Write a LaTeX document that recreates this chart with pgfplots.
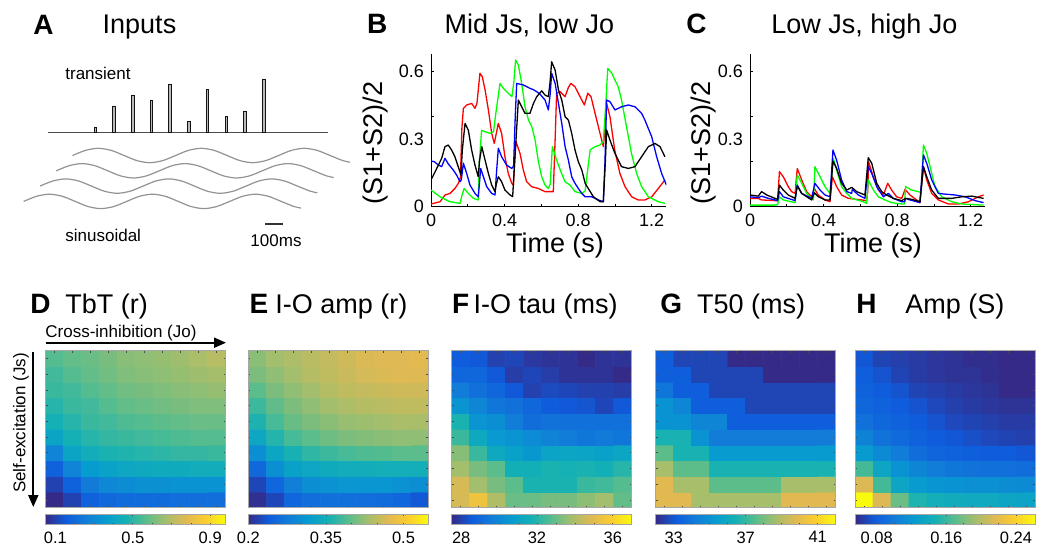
\documentclass[border=0pt]{standalone}
\usepackage{fontspec}
\setmainfont{Liberation Sans}
\usepackage{pgfplots}
\pgfplotsset{compat=1.18}
\usetikzlibrary{arrows.meta}

\newcommand{\ltr}{\fontsize{14}{16}\selectfont\bfseries}
\newcommand{\ttl}{\fontsize{13.5}{16}\selectfont}
\newcommand{\tkl}{\fontsize{9}{10}\selectfont}
\newcommand{\sml}{\fontsize{8.5}{10}\selectfont}
\newcommand{\cbl}{\fontsize{8.25}{10}\selectfont}

\pgfplotsset{
  colormap={parula}{rgb255=(53,42,135) rgb255=(15,92,221) rgb255=(18,125,216)
    rgb255=(7,156,207) rgb255=(21,177,180) rgb255=(89,189,140) rgb255=(165,190,107)
    rgb255=(225,185,82) rgb255=(252,206,46) rgb255=(249,251,14)},
  trace axis/.style={
    anchor=south west, scale only axis, width=117.7pt, height=76.5pt,
    xmin=0, xmax=1.28, ymin=0, ymax=0.68,
    axis x line*=bottom, axis y line*=left,
    axis line style={-, line width=0.5pt},
    tick align=inside, major tick length=1.5pt, tick style={black, line width=0.4pt},
    xtick={0,0.2,0.4,0.6,0.8,1,1.2}, xticklabels={0,,0.4,,0.8,,1.2},
    ytick={0,0.2,0.4,0.6}, yticklabels={0,,,0.6},
    extra y ticks={0.3}, extra y tick labels={0.3},
    extra y tick style={major tick length=0pt},
    tick label style={font=\tkl},
    /pgf/number format/assume math mode=true,
    every axis plot/.append style={line width=0.65pt, line join=round},
  },
  heat/.style={
    anchor=north west, scale only axis, width=90pt, height=78.5pt,
    xmin=0.5, xmax=10.5, ymin=0.5, ymax=10.5, enlargelimits=false,
    axis on top, colormap name=parula,
    xtick={1,...,10}, ytick={1,...,10}, xticklabels={}, yticklabels={},
    tick align=inside, major tick length=1pt,
    tick style={gray!60!black, line width=0.3pt},
    axis line style={gray!70, line width=0.4pt},
    colorbar horizontal,
    colorbar style={
      at={(parent axis.south west)}, anchor=north west, yshift=5.35pt,
      scale only axis, width=90pt, height=5.25pt,
      tick align=inside, major tick length=1pt, minor tick length=0.7pt,
      tick style={gray!60!black, line width=0.3pt},
      axis line style={gray!70, line width=0.4pt},
      xticklabel style={font=\cbl},
      minor x tick num=3,
      /pgf/number format/assume math mode=true,
    },
  },
}

\begin{document}
\begin{tikzpicture}
\useasboundingbox (0,0) rectangle (521pt,-275pt);
\fill[white] (0,0) rectangle (521pt,-275pt);

% ---------- A: inputs ----------
\begin{axis}[at={(24pt,-66.15pt)}, anchor=south west, scale only axis,
  width=140pt, height=30pt, xmin=48, xmax=328, ymin=0, ymax=60,
  hide axis, clip=false]
\addplot[gray!60!black, line width=0.5pt] coordinates {(48.3,0) (328.3,0)};
\addplot[ybar, bar width=2.6, fill=gray!55, draw=gray!15!black, line width=0.45pt]
  coordinates {(95.3,5.3) (114,26.3) (132.7,37.3) (151.3,32.3) (170,48)
               (189,10.7) (207.3,42.7) (226.3,16) (245,21.3) (263.7,53.3)};
\end{axis}

\begin{axis}[at={(0pt,-70pt)}, anchor=north west, scale only axis,
  width=180pt, height=37.5pt, xmin=0, xmax=360, ymin=140, ymax=215,
  y dir=reverse, hide axis, clip=false]
\addplot[smooth, gray!85, line width=0.6pt] coordinates {
  (72.6,155.5) (85.4,150.4) (98.3,148.3) (111.2,150.4) (124.1,155.5) (136.9,160.6)
  (149.8,162.7) (162.7,160.6) (175.6,155.5) (188.4,150.4) (201.3,148.3) (214.2,150.4)
  (227.1,155.5) (239.9,160.6) (252.8,162.7) (265.7,160.6) (278.6,155.5) (291.4,150.4)
  (304.3,148.3) (317.2,150.4) (330.1,155.5) (342.9,160.6) (350,162.2)};
\addplot[smooth, gray!85, line width=0.6pt] coordinates {
  (56.3,170.8) (69.1,165.7) (82,163.6) (94.9,165.7) (107.8,170.8) (120.6,175.9)
  (133.5,178) (146.4,175.9) (159.3,170.8) (172.1,165.7) (185,163.6) (197.9,165.7)
  (210.8,170.8) (223.6,175.9) (236.5,178) (249.4,175.9) (262.3,170.8) (275.1,165.7)
  (288,163.6) (300.9,165.7) (313.8,170.8) (326.6,175.9) (333.7,177.5)};
\addplot[smooth, gray!85, line width=0.6pt] coordinates {
  (40,186.1) (52.8,181) (65.7,178.9) (78.6,181) (91.5,186.1) (104.3,191.2)
  (117.2,193.3) (130.1,191.2) (143,186.1) (155.8,181) (168.7,178.9) (181.6,181)
  (194.5,186.1) (207.3,191.2) (220.2,193.3) (233.1,191.2) (246,186.1) (258.8,181)
  (271.7,178.9) (284.6,181) (297.5,186.1) (310.3,191.2) (317.4,192.8)};
\addplot[smooth, gray!85, line width=0.6pt] coordinates {
  (23.7,201.4) (36.5,196.3) (49.4,194.2) (62.3,196.3) (75.2,201.4) (88,206.5)
  (100.9,208.6) (113.8,206.5) (126.7,201.4) (139.5,196.3) (152.4,194.2) (165.3,196.3)
  (178.2,201.4) (191,206.5) (203.9,208.6) (216.8,206.5) (229.7,201.4) (242.5,196.3)
  (255.4,194.2) (268.3,196.3) (281.2,201.4) (294,206.5) (301.1,208.1)};
\end{axis}

% ---------- B ----------
\begin{axis}[trace axis, at={(215.5pt,-103.35pt)}]
\addplot[red] coordinates {
 (0,0.012) (0.049,0.022) (0.076,0.052) (0.103,0.059) (0.13,0.081) (0.149,0.104)
 (0.16,0.13) (0.168,0.35) (0.176,0.437) (0.194,0.452) (0.221,0.459) (0.239,0.437)
 (0.25,0.46) (0.266,0.593) (0.279,0.578) (0.294,0.519) (0.312,0.43) (0.33,0.326)
 (0.344,0.281) (0.356,0.33) (0.366,0.37) (0.384,0.326) (0.402,0.222) (0.42,0.148)
 (0.439,0.104) (0.448,0.096) (0.458,0.25) (0.462,0.289) (0.484,0.237) (0.502,0.163)
 (0.52,0.111) (0.547,0.089) (0.584,0.081) (0.62,0.067) (0.665,0.067) (0.675,0.3)
 (0.683,0.504) (0.702,0.511) (0.729,0.489) (0.747,0.53) (0.761,0.548) (0.783,0.533)
 (0.801,0.504) (0.82,0.474) (0.834,0.452) (0.852,0.504) (0.87,0.489) (0.892,0.415)
 (0.919,0.326) (0.937,0.267) (0.946,0.35) (0.955,0.459) (0.973,0.4) (0.999,0.252)
 (1.027,0.148) (1.055,0.089) (1.091,0.044) (1.127,0.03) (1.163,0.03) (1.2,0.044)
 (1.236,0.081) (1.272,0.119)};
\addplot[green] coordinates {
 (0,0.074) (0.049,0.044) (0.103,0.022) (0.158,0.015) (0.168,0.05) (0.18,0.081)
 (0.203,0.059) (0.23,0.037) (0.257,0.03) (0.263,0.2) (0.275,0.34) (0.295,0.333)
 (0.321,0.326) (0.34,0.333) (0.35,0.4) (0.375,0.548) (0.393,0.526) (0.42,0.504)
 (0.44,0.489) (0.45,0.55) (0.46,0.652) (0.475,0.63) (0.493,0.548) (0.511,0.444)
 (0.53,0.385) (0.548,0.356) (0.566,0.296) (0.584,0.2) (0.602,0.133) (0.62,0.096)
 (0.638,0.081) (0.648,0.1) (0.66,0.267) (0.683,0.207) (0.71,0.148) (0.729,0.111)
 (0.756,0.096) (0.783,0.067) (0.82,0.059) (0.838,0.07) (0.865,0.252) (0.892,0.267)
 (0.919,0.274) (0.937,0.289) (0.95,0.45) (0.961,0.615) (0.983,0.593) (1.0,0.563)
 (1.018,0.533) (1.036,0.474) (1.063,0.356) (1.09,0.237) (1.118,0.148) (1.145,0.089)
 (1.182,0.044) (1.236,0.022) (1.272,0.015)};
\addplot[blue] coordinates {
 (0,0.203) (0.018,0.2) (0.04,0.185) (0.058,0.178) (0.076,0.215) (0.094,0.19)
 (0.121,0.163) (0.139,0.141) (0.158,0.111) (0.165,0.12) (0.176,0.193) (0.194,0.148)
 (0.212,0.096) (0.239,0.059) (0.257,0.044) (0.263,0.1) (0.27,0.17) (0.285,0.133)
 (0.303,0.089) (0.33,0.059) (0.348,0.052) (0.356,0.15) (0.366,0.26) (0.384,0.222)
 (0.411,0.185) (0.439,0.17) (0.449,0.18) (0.458,0.4) (0.466,0.548) (0.502,0.541)
 (0.538,0.526) (0.557,0.52) (0.575,0.511) (0.593,0.5) (0.62,0.474) (0.638,0.43)
 (0.648,0.5) (0.656,0.593) (0.675,0.548) (0.693,0.459) (0.711,0.37) (0.729,0.267)
 (0.747,0.207) (0.765,0.133) (0.783,0.104) (0.801,0.081) (0.82,0.059) (0.838,0.044)
 (0.874,0.044) (0.91,0.03) (0.937,0.022) (0.946,0.2) (0.955,0.474) (0.973,0.467)
 (1.0,0.43) (1.036,0.444) (1.073,0.452) (1.109,0.444) (1.145,0.415) (1.163,0.385)
 (1.2,0.311) (1.227,0.222) (1.254,0.148) (1.28,0.096)};
\addplot[black] coordinates {
 (0,0.119) (0.018,0.148) (0.036,0.178) (0.058,0.215) (0.076,0.267) (0.094,0.274)
 (0.112,0.252) (0.13,0.222) (0.148,0.178) (0.163,0.141) (0.17,0.25) (0.185,0.37)
 (0.203,0.34) (0.221,0.252) (0.239,0.185) (0.257,0.133) (0.263,0.2) (0.276,0.267)
 (0.294,0.207) (0.312,0.148) (0.33,0.096) (0.348,0.067) (0.355,0.1) (0.366,0.133)
 (0.384,0.111) (0.402,0.074) (0.43,0.052) (0.444,0.045) (0.455,0.2) (0.475,0.474)
 (0.493,0.444) (0.511,0.415) (0.538,0.415) (0.557,0.459) (0.575,0.489) (0.602,0.515)
 (0.62,0.496) (0.638,0.489) (0.647,0.55) (0.656,0.644) (0.675,0.607) (0.693,0.519)
 (0.711,0.474) (0.729,0.4) (0.747,0.385) (0.765,0.326) (0.783,0.252) (0.801,0.2)
 (0.82,0.163) (0.838,0.104) (0.856,0.08) (0.883,0.044) (0.92,0.022) (0.937,0.022)
 (0.948,0.2) (0.955,0.341) (0.973,0.296) (1.0,0.237) (1.036,0.178) (1.073,0.17)
 (1.109,0.178) (1.145,0.222) (1.182,0.267) (1.218,0.281) (1.245,0.267) (1.272,0.222)};
\end{axis}

% ---------- C ----------
\begin{axis}[trace axis, at={(375pt,-103.35pt)}]
\addplot[red] coordinates {
 (0,0.037) (0.045,0.037) (0.063,0.03) (0.136,0.027) (0.15,0.027) (0.16,0.156)
 (0.181,0.133) (0.208,0.089) (0.226,0.067) (0.245,0.059) (0.257,0.17) (0.281,0.119)
 (0.308,0.067) (0.335,0.044) (0.35,0.081) (0.371,0.052) (0.408,0.03) (0.435,0.022)
 (0.448,0.133) (0.471,0.089) (0.498,0.052) (0.535,0.037) (0.607,0.03) (0.634,0.027)
 (0.64,0.067) (0.645,0.2) (0.67,0.133) (0.698,0.074) (0.725,0.052) (0.749,0.104)
 (0.77,0.074) (0.797,0.044) (0.825,0.037) (0.843,0.077) (0.87,0.052) (0.906,0.03)
 (0.924,0.018) (0.943,0.178) (0.961,0.119) (0.988,0.059) (1.024,0.03) (1.079,0.012)
 (1.133,0.012) (1.188,0.022) (1.242,0.044) (1.27,0.052)};
\addplot[green] coordinates {
 (0,0.007) (0.136,0.007) (0.15,0.009) (0.16,0.044) (0.181,0.03) (0.245,0.018)
 (0.257,0.141) (0.281,0.104) (0.308,0.059) (0.335,0.037) (0.345,0.03) (0.353,0.178)
 (0.381,0.133) (0.408,0.089) (0.435,0.059) (0.453,0.215) (0.471,0.163) (0.498,0.089)
 (0.526,0.059) (0.553,0.037) (0.616,0.022) (0.634,0.015) (0.643,0.119) (0.671,0.074)
 (0.698,0.044) (0.734,0.03) (0.77,0.018) (0.825,0.012) (0.84,0.012) (0.846,0.089)
 (0.879,0.074) (0.915,0.067) (0.93,0.063) (0.943,0.274) (0.961,0.237) (0.979,0.178)
 (1.006,0.089) (1.043,0.044) (1.097,0.022) (1.151,0.012) (1.27,0.007)};
\addplot[blue] coordinates {
 (0,0.044) (0.045,0.04) (0.063,0.047) (0.1,0.037) (0.136,0.03) (0.15,0.027)
 (0.16,0.067) (0.181,0.044) (0.245,0.027) (0.257,0.096) (0.281,0.059) (0.335,0.037)
 (0.353,0.104) (0.381,0.074) (0.408,0.052) (0.435,0.044) (0.451,0.252) (0.471,0.207)
 (0.498,0.119) (0.526,0.067) (0.553,0.059) (0.556,0.077) (0.589,0.052) (0.625,0.037)
 (0.643,0.178) (0.662,0.148) (0.689,0.089) (0.725,0.044) (0.752,0.059) (0.779,0.037)
 (0.825,0.022) (0.84,0.022) (0.846,0.037) (0.87,0.03) (0.924,0.018) (0.943,0.23)
 (0.961,0.193) (0.988,0.119) (1.024,0.059) (1.06,0.056) (1.115,0.052) (1.17,0.044)
 (1.224,0.027) (1.27,0.018)};
\addplot[black] coordinates {
 (0,0.052) (0.045,0.047) (0.063,0.067) (0.091,0.052) (0.136,0.037) (0.15,0.033)
 (0.16,0.096) (0.181,0.074) (0.208,0.052) (0.245,0.037) (0.257,0.092) (0.281,0.059)
 (0.335,0.03) (0.35,0.062) (0.372,0.044) (0.408,0.03) (0.435,0.03) (0.451,0.203)
 (0.471,0.17) (0.498,0.104) (0.526,0.074) (0.553,0.086) (0.58,0.067) (0.625,0.052)
 (0.643,0.218) (0.662,0.193) (0.689,0.104) (0.716,0.067) (0.743,0.052) (0.779,0.037)
 (0.825,0.027) (0.846,0.037) (0.879,0.033) (0.924,0.022) (0.943,0.178) (0.961,0.133)
 (0.988,0.074) (1.024,0.037) (1.097,0.037) (1.151,0.044) (1.206,0.047) (1.27,0.037)};
\end{axis}

% ---------- D: TbT (r) ----------
\begin{axis}[heat, at={(22.85pt,-175.35pt)}, point meta min=0.05, point meta max=0.98,
  colorbar style={xtick={0.1,0.5,0.9}, xticklabels={0.1,0.5,0.9}}]
\addplot[matrix plot*, mesh/cols=10, point meta=explicit] coordinates {
(1,1)[0.05] (2,1)[0.10] (3,1)[0.17] (4,1)[0.19] (5,1)[0.20] (6,1)[0.20] (7,1)[0.20] (8,1)[0.21] (9,1)[0.21] (10,1)[0.21]
(1,2)[0.10] (2,2)[0.17] (3,2)[0.25] (4,2)[0.29] (5,2)[0.31] (6,2)[0.32] (7,2)[0.32] (8,2)[0.33] (9,2)[0.33] (10,2)[0.33]
(1,3)[0.17] (2,3)[0.28] (3,3)[0.36] (4,3)[0.39] (5,3)[0.41] (6,3)[0.42] (7,3)[0.43] (8,3)[0.43] (9,3)[0.44] (10,3)[0.44]
(1,4)[0.28] (2,4)[0.40] (3,4)[0.44] (4,4)[0.47] (5,4)[0.48] (6,4)[0.49] (7,4)[0.50] (8,4)[0.51] (9,4)[0.51] (10,4)[0.52]
(1,5)[0.40] (2,5)[0.46] (3,5)[0.49] (4,5)[0.51] (5,5)[0.52] (6,5)[0.53] (7,5)[0.54] (8,5)[0.55] (9,5)[0.56] (10,5)[0.56]
(1,6)[0.46] (2,6)[0.49] (3,6)[0.52] (4,6)[0.53] (5,6)[0.55] (6,6)[0.56] (7,6)[0.57] (8,6)[0.58] (9,6)[0.59] (10,6)[0.59]
(1,7)[0.49] (2,7)[0.52] (3,7)[0.53] (4,7)[0.56] (5,7)[0.58] (6,7)[0.59] (7,7)[0.60] (8,7)[0.61] (9,7)[0.62] (10,7)[0.62]
(1,8)[0.52] (2,8)[0.53] (3,8)[0.56] (4,8)[0.58] (5,8)[0.60] (6,8)[0.61] (7,8)[0.62] (8,8)[0.63] (9,8)[0.64] (10,8)[0.65]
(1,9)[0.53] (2,9)[0.56] (3,9)[0.58] (4,9)[0.60] (5,9)[0.62] (6,9)[0.63] (7,9)[0.64] (8,9)[0.65] (9,9)[0.66] (10,9)[0.67]
(1,10)[0.56] (2,10)[0.58] (3,10)[0.59] (4,10)[0.61] (5,10)[0.63] (6,10)[0.64] (7,10)[0.65] (8,10)[0.66] (9,10)[0.68] (10,10)[0.70]
};
\end{axis}

% ---------- E: I-O amp (r) ----------
\begin{axis}[heat, at={(124.15pt,-175.35pt)}, point meta min=0.2, point meta max=0.548,
  colorbar style={xtick={0.2,0.35,0.5}, xticklabels={0.2,0.35,0.5}, minor x tick num=2}]
\addplot[matrix plot*, mesh/cols=10, point meta=explicit] coordinates {
(1,1)[0.205] (2,1)[0.222] (3,1)[0.250] (4,1)[0.260] (5,1)[0.263] (6,1)[0.263] (7,1)[0.260] (8,1)[0.256] (9,1)[0.250] (10,1)[0.236]
(1,2)[0.222] (2,2)[0.250] (3,2)[0.280] (4,2)[0.298] (5,2)[0.304] (6,2)[0.308] (7,2)[0.308] (8,2)[0.308] (9,2)[0.304] (10,2)[0.298]
(1,3)[0.253] (2,3)[0.298] (3,3)[0.325] (4,3)[0.335] (5,3)[0.342] (6,3)[0.346] (7,3)[0.346] (8,3)[0.349] (9,3)[0.349] (10,3)[0.349]
(1,4)[0.298] (2,4)[0.332] (3,4)[0.356] (4,4)[0.370] (5,4)[0.377] (6,4)[0.383] (7,4)[0.387] (8,4)[0.390] (9,4)[0.394] (10,4)[0.394]
(1,5)[0.335] (2,5)[0.363] (3,5)[0.383] (4,5)[0.394] (5,5)[0.404] (6,5)[0.411] (7,5)[0.414] (8,5)[0.418] (9,5)[0.421] (10,5)[0.421]
(1,6)[0.359] (2,6)[0.383] (3,6)[0.401] (4,6)[0.411] (5,6)[0.418] (6,6)[0.425] (7,6)[0.428] (8,6)[0.431] (9,6)[0.435] (10,6)[0.435]
(1,7)[0.377] (2,7)[0.397] (3,7)[0.411] (4,7)[0.421] (5,7)[0.431] (6,7)[0.438] (7,7)[0.442] (8,7)[0.445] (9,7)[0.449] (10,7)[0.449]
(1,8)[0.394] (2,8)[0.411] (3,8)[0.421] (4,8)[0.431] (5,8)[0.442] (6,8)[0.449] (7,8)[0.452] (8,8)[0.455] (9,8)[0.459] (10,8)[0.459]
(1,9)[0.411] (2,9)[0.421] (3,9)[0.431] (4,9)[0.442] (5,9)[0.449] (6,9)[0.455] (7,9)[0.462] (8,9)[0.466] (9,9)[0.469] (10,9)[0.469]
(1,10)[0.418] (2,10)[0.431] (3,10)[0.438] (4,10)[0.445] (5,10)[0.452] (6,10)[0.459] (7,10)[0.466] (8,10)[0.469] (9,10)[0.469] (10,10)[0.473]
};
\end{axis}

% ---------- F: I-O tau (ms) ----------
\begin{axis}[heat, at={(225.85pt,-175.35pt)}, point meta min=27.5, point meta max=37,
  colorbar style={xtick={28,32,36}, xticklabels={28,32,36}}]
\addplot[matrix plot*, mesh/cols=10, point meta=explicit] coordinates {
(1,1)[34.7] (2,1)[35.4] (3,1)[34.0] (4,1)[33.0] (5,1)[33.0] (6,1)[33.2] (7,1)[33.2] (8,1)[33.5] (9,1)[33.8] (10,1)[32.9]
(1,2)[34.7] (2,2)[33.8] (3,2)[33.2] (4,2)[32.8] (5,2)[31.8] (6,2)[31.8] (7,2)[31.8] (8,2)[32.3] (9,2)[32.4] (10,2)[32.7]
(1,3)[33.8] (2,3)[33.2] (3,3)[32.8] (4,3)[31.6] (5,3)[31.6] (6,3)[31.8] (7,3)[31.7] (8,3)[31.8] (9,3)[31.6] (10,3)[32.0]
(1,4)[33.4] (2,4)[32.3] (3,4)[31.3] (4,4)[30.9] (5,4)[30.5] (6,4)[31.0] (7,4)[31.1] (8,4)[31.0] (9,4)[30.9] (10,4)[31.1]
(1,5)[32.3] (2,5)[31.3] (3,5)[30.6] (4,5)[30.4] (5,5)[30.1] (6,5)[29.8] (7,5)[29.6] (8,5)[29.4] (9,5)[29.5] (10,5)[29.4]
(1,6)[31.8] (2,6)[30.4] (3,6)[30.2] (4,6)[29.6] (5,6)[29.1] (6,6)[29.3] (7,6)[29.2] (8,6)[29.2] (9,6)[29.2] (10,6)[29.2]
(1,7)[30.4] (2,7)[29.9] (3,7)[29.4] (4,7)[29.2] (5,7)[28.9] (6,7)[28.6] (7,7)[28.5] (8,7)[28.4] (9,7)[28.1] (10,7)[28.5]
(1,8)[29.6] (2,8)[29.2] (3,8)[28.9] (4,8)[28.5] (5,8)[28.0] (6,8)[28.2] (7,8)[28.1] (8,8)[28.0] (9,8)[28.0] (10,8)[27.9]
(1,9)[28.9] (2,9)[28.9] (3,9)[28.5] (4,9)[27.9] (5,9)[28.1] (6,9)[27.9] (7,9)[27.7] (8,9)[27.7] (9,9)[27.7] (10,9)[27.5]
(1,10)[28.6] (2,10)[28.5] (3,10)[28.0] (4,10)[28.1] (5,10)[27.8] (6,10)[27.7] (7,10)[27.7] (8,10)[27.5] (9,10)[27.7] (10,10)[27.7]
};
\end{axis}

% ---------- G: T50 (ms) ----------
\begin{axis}[heat, at={(327.85pt,-175.35pt)}, point meta min=32, point meta max=42,
  colorbar style={xtick={33,37,41}, xticklabels={33,37,41}}]
\addplot[matrix plot*, mesh/cols=10, point meta=explicit] coordinates {
(1,1)[39.8] (2,1)[39.8] (3,1)[38.7] (4,1)[38.7] (5,1)[38.7] (6,1)[38.7] (7,1)[38.7] (8,1)[39.8] (9,1)[39.8] (10,1)[39.8]
(1,2)[39.8] (2,2)[38.7] (3,2)[38.7] (4,2)[37.6] (5,2)[37.6] (6,2)[37.6] (7,2)[37.6] (8,2)[38.7] (9,2)[38.7] (10,2)[38.7]
(1,3)[38.7] (2,3)[37.6] (3,3)[37.6] (4,3)[36.5] (5,3)[36.5] (6,3)[36.5] (7,3)[36.5] (8,3)[36.5] (9,3)[36.5] (10,3)[36.5]
(1,4)[37.6] (2,4)[36.5] (3,4)[36.5] (4,4)[35.3] (5,4)[35.3] (6,4)[35.3] (7,4)[35.3] (8,4)[35.3] (9,4)[35.3] (10,4)[35.3]
(1,5)[36.5] (2,5)[36.5] (3,5)[35.0] (4,5)[34.2] (5,5)[34.2] (6,5)[34.2] (7,5)[34.2] (8,5)[34.2] (9,5)[34.2] (10,5)[34.2]
(1,6)[35.0] (2,6)[35.0] (3,6)[34.5] (4,6)[34.5] (5,6)[33.2] (6,6)[33.2] (7,6)[33.2] (8,6)[33.2] (9,6)[33.2] (10,6)[33.2]
(1,7)[35.0] (2,7)[34.5] (3,7)[33.2] (4,7)[33.2] (5,7)[33.2] (6,7)[32.6] (7,7)[32.6] (8,7)[32.6] (9,7)[32.6] (10,7)[32.6]
(1,8)[34.0] (2,8)[33.2] (3,8)[33.2] (4,8)[32.6] (5,8)[32.6] (6,8)[32.6] (7,8)[32.6] (8,8)[32.6] (9,8)[32.6] (10,8)[32.6]
(1,9)[33.2] (2,9)[33.2] (3,9)[32.6] (4,9)[32.6] (5,9)[32.6] (6,9)[32.6] (7,9)[32.0] (8,9)[32.0] (9,9)[32.0] (10,9)[32.0]
(1,10)[33.2] (2,10)[32.6] (3,10)[32.6] (4,10)[32.6] (5,10)[32.0] (6,10)[32.0] (7,10)[32.0] (8,10)[32.0] (9,10)[32.0] (10,10)[32.0]
};
\end{axis}

% ---------- H: Amp (S) ----------
\begin{axis}[heat, at={(427.5pt,-175.35pt)}, point meta min=0.055, point meta max=0.262,
  colorbar style={xtick={0.08,0.16,0.24}, xticklabels={0.08,0.16,0.24}}]
\addplot[matrix plot*, mesh/cols=10, point meta=explicit] coordinates {
(1,1)[0.262] (2,1)[0.214] (3,1)[0.175] (4,1)[0.150] (5,1)[0.144] (6,1)[0.140] (7,1)[0.138] (8,1)[0.138] (9,1)[0.134] (10,1)[0.132]
(1,2)[0.214] (2,2)[0.163] (3,2)[0.134] (4,2)[0.123] (5,2)[0.119] (6,2)[0.117] (7,2)[0.115] (8,2)[0.115] (9,2)[0.113] (10,2)[0.111]
(1,3)[0.163] (2,3)[0.134] (3,3)[0.117] (4,3)[0.107] (5,3)[0.101] (6,3)[0.096] (7,3)[0.094] (8,3)[0.092] (9,3)[0.092] (10,3)[0.090]
(1,4)[0.123] (2,4)[0.111] (3,4)[0.101] (4,4)[0.090] (5,4)[0.084] (6,4)[0.082] (7,4)[0.080] (8,4)[0.078] (9,4)[0.078] (10,4)[0.076]
(1,5)[0.105] (2,5)[0.094] (3,5)[0.088] (4,5)[0.082] (5,5)[0.078] (6,5)[0.076] (7,5)[0.072] (8,5)[0.069] (9,5)[0.067] (10,5)[0.065]
(1,6)[0.092] (2,6)[0.086] (3,6)[0.082] (4,6)[0.078] (5,6)[0.074] (6,6)[0.069] (7,6)[0.067] (8,6)[0.065] (9,6)[0.063] (10,6)[0.063]
(1,7)[0.086] (2,7)[0.082] (3,7)[0.078] (4,7)[0.074] (5,7)[0.069] (6,7)[0.065] (7,7)[0.063] (8,7)[0.061] (9,7)[0.059] (10,7)[0.059]
(1,8)[0.082] (2,8)[0.078] (3,8)[0.074] (4,8)[0.067] (5,8)[0.065] (6,8)[0.063] (7,8)[0.061] (8,8)[0.059] (9,8)[0.055] (10,8)[0.055]
(1,9)[0.080] (2,9)[0.074] (3,9)[0.067] (4,9)[0.063] (5,9)[0.061] (6,9)[0.059] (7,9)[0.059] (8,9)[0.057] (9,9)[0.055] (10,9)[0.055]
(1,10)[0.076] (2,10)[0.067] (3,10)[0.065] (4,10)[0.063] (5,10)[0.061] (6,10)[0.059] (7,10)[0.057] (8,10)[0.057] (9,10)[0.055] (10,10)[0.055]
};
\end{axis}

% ---------- texts (pixel coordinates) ----------
\begin{scope}[x=0.5pt, y=-0.5pt]
\node[anchor=base west, inner sep=0, font=\ltr] at (33,35) {A};
\node[anchor=base west, inner sep=0, font=\ttl] at (102.3,34) {Inputs};
\node[anchor=west, inner sep=0, font=\sml] at (65,73) {transient};
\node[anchor=west, inner sep=0, font=\sml] at (65,235) {sinusoidal};
\node[anchor=center, inner sep=0, font=\sml] at (276,241) {100ms};
\draw[gray!40!black, line width=0.6pt] (265,224) -- (283.3,224);

\node[anchor=base west, inner sep=0, font=\ltr] at (366.7,33.3) {B};
\node[anchor=base west, inner sep=0, font=\ttl] at (444.3,33.3) {Mid Js, low Jo};
\node[anchor=base west, inner sep=0, font=\ltr] at (686,33.3) {C};
\node[anchor=base west, inner sep=0, font=\ttl] at (771,33.3) {Low Js, high Jo};
\node[anchor=base, inner sep=0, font=\ttl] at (555,252.7) {Time (s)};
\node[anchor=base, inner sep=0, font=\ttl] at (873,252.7) {Time (s)};
\node[rotate=90, inner sep=0, font=\ttl] at (376,143) {(S1+S2)/2};
\node[rotate=90, inner sep=0, font=\ttl] at (703,143) {(S1+S2)/2};

\node[anchor=base west, inner sep=0, font=\ltr] at (30,313.5) {D};
\node[anchor=base west, inner sep=0, font=\ttl] at (65,313.5) {TbT (r)};
\node[anchor=base west, inner sep=0, font=\ltr] at (249.3,313.5) {E};
\node[anchor=base west, inner sep=0, font=\ttl] at (275,313.5) {I-O amp (r)};
\node[anchor=base west, inner sep=0, font=\ltr] at (451.7,313.5) {F};
\node[anchor=base west, inner sep=0, font=\ttl] at (473.3,313.5) {I-O tau (ms)};
\node[anchor=base west, inner sep=0, font=\ltr] at (660,313.5) {G};
\node[anchor=base west, inner sep=0, font=\ttl] at (696.7,313.5) {T50 (ms)};
\node[anchor=base west, inner sep=0, font=\ltr] at (856,313.5) {H};
\node[anchor=base west, inner sep=0, font=\ttl] at (905,313.5) {Amp (S)};

\node[anchor=west, inner sep=0, font=\sml] at (45,332.7) {Cross-inhibition (Jo)};
\draw[line width=1pt, -{Triangle[length=6pt, width=5pt]}] (45.7,342.7) -- (226,342.7);
\node[rotate=90, inner sep=0, font=\sml] at (21,423) {Self-excitation (Js)};
\draw[line width=1pt, -{Triangle[length=6pt, width=5pt]}] (33.3,351.7) -- (33.3,507);
\end{scope}
\end{tikzpicture}
\end{document}
